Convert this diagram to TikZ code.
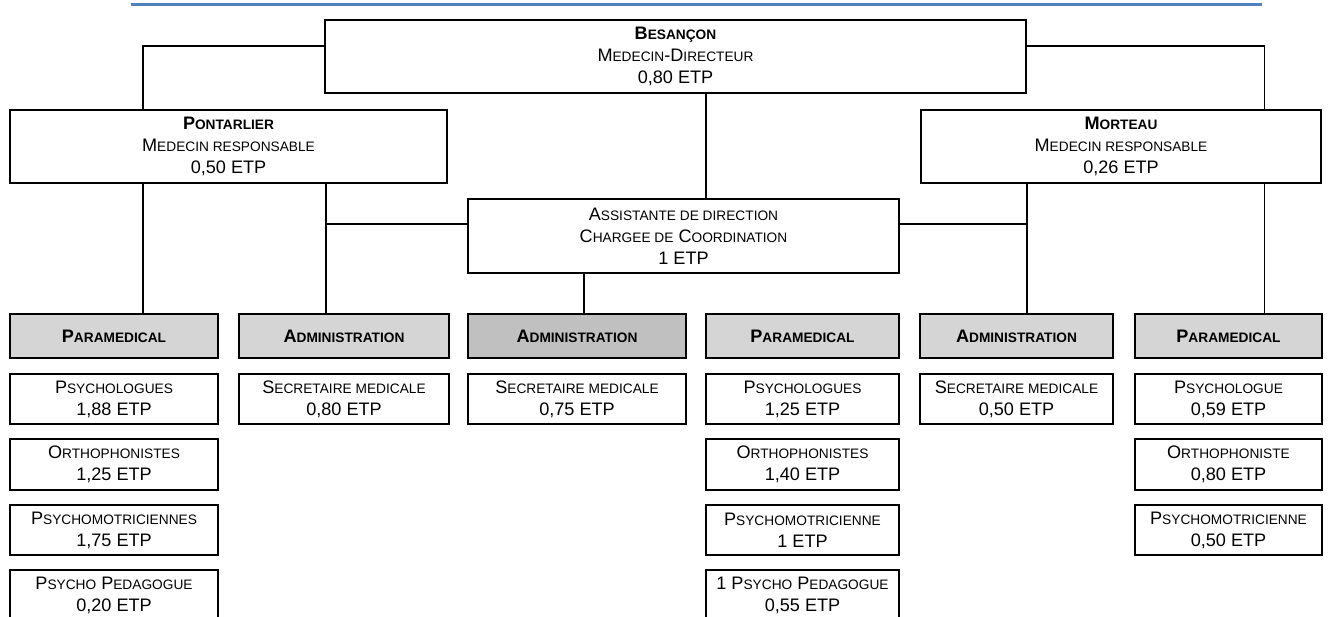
\documentclass[tikz,border=0pt]{standalone}
\usepackage{fontspec}
\setmainfont{Liberation Sans}
\newcommand\smc[1]{{\fontsize{7.8}{9}\selectfont #1}}
\definecolor{rulebl}{RGB}{79,129,189}
\definecolor{hdrgray}{RGB}{213,213,213}
\definecolor{hdrdark}{RGB}{192,192,192}
\begin{document}
\begin{tikzpicture}[x=0.02cm,y=-0.02cm,
  box/.style={draw=black,line width=1.1pt,fill=white,inner sep=0pt,align=center,
    font=\fontsize{10.3}{12.5}\selectfont},
  hdr/.style={box,fill=hdrgray,minimum height=0.88cm,font=\fontsize{10.3}{12.5}\selectfont\bfseries},
  item/.style={box,minimum height=1.0cm},
  link/.style={line width=1.1pt,draw=black}]
\useasboundingbox (0,0) rectangle (1328,617);
% top rule
\coordinate (r1) at (131,4.5);
\coordinate (r2) at (1262,4.5);
\draw[rulebl,line width=1.5pt] (r1) -- (r2);

% main boxes
\node[box,minimum width=14.02cm,minimum height=1.46cm] (bes) at (675.5,56.5)
  {\bfseries B\smc{\bfseries ESANÇON}\\M\smc{EDECIN}-D\smc{IRECTEUR}\\0,80 ETP};
\node[box,minimum width=8.74cm,minimum height=1.46cm] (pon) at (228.5,146.5)
  {\bfseries P\smc{\bfseries ONTARLIER}\\M\smc{EDECIN RESPONSABLE}\\0,50 ETP};
\node[box,minimum width=8.0cm,minimum height=1.46cm] (mor) at (1121,146.5)
  {\bfseries M\smc{\bfseries ORTEAU}\\M\smc{EDECIN RESPONSABLE}\\0,26 ETP};
\node[box,minimum width=8.62cm,minimum height=1.48cm] (ass) at (683.5,236)
  {A\smc{SSISTANTE DE DIRECTION}\\C\smc{HARGEE DE} C\smc{OORDINATION}\\1 ETP};

% headers
\node[hdr,minimum width=4.16cm] (h1) at (114,336) {P\smc{\bfseries ARAMEDICAL}};
\node[hdr,minimum width=4.2cm] (h2) at (344,336) {A\smc{\bfseries DMINISTRATION}};
\node[hdr,fill=hdrdark,minimum width=4.36cm] (h3) at (577,336) {A\smc{\bfseries DMINISTRATION}};
\node[hdr,minimum width=3.86cm] (h4) at (802.5,336) {P\smc{\bfseries ARAMEDICAL}};
\node[hdr,minimum width=3.86cm] (h5) at (1016.5,336) {A\smc{\bfseries DMINISTRATION}};
\node[hdr,minimum width=3.74cm] (h6) at (1228.5,336) {P\smc{\bfseries ARAMEDICAL}};

% column 1
\node[item,minimum width=4.16cm] (a1) at (114,399) {P\smc{SYCHOLOGUES}\\1,88 ETP};
\node[item,minimum width=4.16cm,minimum height=1.02cm] (a2) at (114,464.5) {O\smc{RTHOPHONISTES}\\1,25 ETP};
\node[item,minimum width=4.16cm] (a3) at (114,530) {P\smc{SYCHOMOTRICIENNES}\\1,75 ETP};
\node[item,minimum width=4.16cm,minimum height=1.02cm] (a4) at (114,595.5) {P\smc{SYCHO} P\smc{EDAGOGUE}\\0,20 ETP};
% column 2
\node[item,minimum width=4.2cm] (b1) at (344,399) {S\smc{ECRETAIRE MEDICALE}\\0,80 ETP};
% column 3
\node[item,minimum width=4.36cm] (c1) at (577,399) {S\smc{ECRETAIRE MEDICALE}\\0,75 ETP};
% column 4
\node[item,minimum width=3.86cm] (d1) at (802.5,399) {P\smc{SYCHOLOGUES}\\1,25 ETP};
\node[item,minimum width=3.86cm,minimum height=1.02cm] (d2) at (802.5,464.5) {O\smc{RTHOPHONISTES}\\1,40 ETP};
\node[item,minimum width=3.86cm] (d3) at (802.5,530) {P\smc{SYCHOMOTRICIENNE}\\1 ETP};
\node[item,minimum width=3.86cm,minimum height=1.02cm] (d4) at (802.5,595.5) {1 P\smc{SYCHO} P\smc{EDAGOGUE}\\0,55 ETP};
% column 5
\node[item,minimum width=3.86cm] (e1) at (1016.5,399) {S\smc{ECRETAIRE MEDICALE}\\0,50 ETP};
% column 6
\node[item,minimum width=3.74cm] (f1) at (1228.5,399) {P\smc{SYCHOLOGUE}\\0,59 ETP};
\node[item,minimum width=3.74cm,minimum height=1.02cm] (f2) at (1228.5,464.5) {O\smc{RTHOPHONISTE}\\0,80 ETP};
\node[item,minimum width=3.74cm] (f3) at (1228.5,530) {P\smc{SYCHOMOTRICIENNE}\\0,50 ETP};

% connectors
\coordinate (k1) at (143,46);
\coordinate (k2) at (1264.5,46);
\coordinate (k3) at (706,0);
\coordinate (k4) at (326,224);
\coordinate (k5) at (1027,224);
\coordinate (k6) at (584,0);
\begin{scope}[on background layer/.try]
\draw[link] (bes.west |- k1) -| (k1 |- pon.north);
\draw[link] (bes.east |- k2) -| (k2 |- mor.north);
\draw[link] (k3 |- bes.south) -- (k3 |- ass.north);
\draw[link] (k1 |- pon.south) -- (k1 |- h1.north);
\draw[link] (k4 |- pon.south) -- (k4 |- h2.north);
\draw[link] (k4) -- (k4 -| ass.west);
\draw[link] (k5 |- mor.south) -- (k5 |- h5.north);
\draw[link] (ass.east |- k5) -- (k5);
\draw[link] (k2 |- mor.south) -- (k2 |- h6.north);
\draw[link] (k6 |- ass.south) -- (k6 |- h3.north);
\end{scope}
\end{tikzpicture}
\end{document}
